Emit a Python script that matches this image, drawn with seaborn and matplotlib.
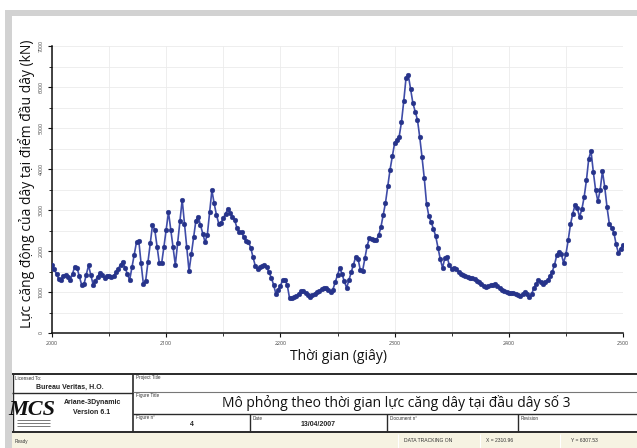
import numpy as np
import pandas as pd
import matplotlib
matplotlib.use("Agg")
import matplotlib.pyplot as plt
import seaborn as sns
from matplotlib.patches import Rectangle

# ---------------- data ----------------
t_start = 2000
t_step = 2
tension = [
    1650, 1550, 1440, 1310, 1300, 1400, 1420, 1360, 1300, 1450,
    1620, 1580, 1380, 1170, 1190, 1420, 1650, 1420, 1180, 1280,
    1370, 1470, 1410, 1350, 1400, 1400, 1370, 1390, 1480, 1570,
    1660, 1740, 1590, 1440, 1290, 1600, 1900, 2220, 2250, 1700,
    1200, 1270, 1730, 2200, 2630, 2520, 2100, 1700, 1700, 2100,
    2520, 2950, 2520, 2090, 1660, 2190, 2720, 3250, 2670, 2090,
    1510, 1920, 2330, 2740, 2840, 2630, 2420, 2220, 2390, 2940,
    3480, 3160, 2880, 2670, 2690, 2800, 2910, 3020, 2930, 2840,
    2750, 2560, 2460, 2460, 2330, 2250, 2220, 2080, 1850, 1640,
    1560, 1610, 1630, 1650, 1600, 1480, 1350, 1180, 960, 1050,
    1150, 1290, 1300, 1170, 850, 860, 870, 900, 960, 1020,
    1030, 980, 930, 880, 920, 960, 1000, 1030, 1070, 1100,
    1100, 1040, 990, 1060, 1240, 1410, 1590, 1430, 1260, 1100,
    1290, 1480, 1670, 1860, 1810, 1530, 1520, 1830, 2130, 2320,
    2300, 2280, 2270, 2380, 2580, 2880, 3170, 3580, 3980, 4310,
    4630, 4710, 4790, 5140, 5650, 6220, 6290, 5950, 5610, 5400,
    5200, 4780, 4290, 3770, 3150, 2850, 2710, 2540, 2360, 2080,
    1800, 1590, 1830, 1850, 1650, 1560, 1580, 1560, 1490, 1440,
    1410, 1380, 1360, 1350, 1340, 1320, 1280, 1240, 1200, 1150,
    1130, 1140, 1160, 1180, 1200, 1150, 1100, 1050, 1020, 990,
    975, 975, 975, 960, 930, 900, 950, 1000, 940, 880,
    950, 1100, 1190, 1290, 1250, 1200, 1250, 1290, 1390, 1490,
    1660, 1900, 1980, 1920, 1710, 1920, 2260, 2650, 2910, 3120,
    3040, 2830, 3020, 3320, 3730, 4250, 4440, 3930, 3490, 3210,
    3490, 3950, 3560, 3070, 2670, 2570, 2450, 2160, 1950, 2060,
    2150,
]
times = t_start + t_step * np.arange(len(tension))

x_ticks = [2000, 2100, 2200, 2300, 2400, 2500]
y_ticks = [0, 1000, 2000, 3000, 4000, 5000, 6000, 7000]

y_label = "Lực căng động của dây tại điểm đầu dây (kN)"
x_label = "Thời gian (giây)"
fig_title = "Mô phỏng theo thời gian lực căng dây tại đầu dây số 3"
licensee = "Bureau Veritas, H.O."
software = ["Ariane-3Dynamic", "Version 6.1"]
figure_no = "4"
date_str = "13/04/2007"
status_x = "X = 2310.96"
status_y = "Y = 6307.53"

# ---------------- figure ----------------
sns.set_theme(style="white")
plt.rcParams["font.family"] = ["Open Sans", "DejaVu Sans"]

W, H = 637, 448
fig = plt.figure(figsize=(W / 100, H / 100), dpi=100)
fig.patch.set_facecolor("white")

bg = fig.add_axes([0, 0, 1, 1])
bg.set_xlim(0, W)
bg.set_ylim(H, 0)
bg.axis("off")

band = "#d2d2d2"
bg.add_patch(Rectangle((5, 10), W - 5, 6, color=band, lw=0))
bg.add_patch(Rectangle((5, 10), 7, H - 10, color=band, lw=0))

# axis labels
bg.text(27, 184, y_label, rotation=90, ha="center", va="center",
        fontsize=10, color="#111111")
bg.text(339, 356, x_label, ha="center", va="center", fontsize=10,
        color="#111111")

# ---------------- title block table ----------------
dark = "#2a2a2a"
def hline(y, x0, x1, lw=1.0, c=dark):
    bg.plot([x0, x1], [y, y], color=c, lw=lw, solid_capstyle="butt")
def vline(x, y0, y1, lw=1.0, c=dark):
    bg.plot([x, x], [y0, y1], color=c, lw=lw, solid_capstyle="butt")

hline(374, 12, W, lw=1.4)
hline(432, 12, W, lw=1.4)
vline(13, 374, 432, lw=1.0)
vline(133, 374, 432, lw=1.2)
hline(393, 12, 133, lw=1.0)
hline(392, 133, W, lw=0.8, c="#777777")
hline(414, 133, W, lw=1.0)
for xd in (250, 387, 518):
    vline(xd, 414, 432, lw=1.0)

tiny = dict(fontsize=3.3, color="#333333", family=["Liberation Sans", "DejaVu Sans"])
bg.text(15, 378, "Licensed To:", ha="left", va="center", **tiny)
bg.text(136, 378, "Project Title", ha="left", va="center", **tiny)
bg.text(136, 396, "Figure Title", ha="left", va="center", **tiny)
bg.text(136, 418, "Figure n°", ha="left", va="center", **tiny)
bg.text(253, 418, "Date", ha="left", va="center", **tiny)
bg.text(390, 418, "Document n°", ha="left", va="center", **tiny)
bg.text(521, 418, "Revision", ha="left", va="center", **tiny)

small_b = dict(fontsize=5.0, color="#222222", fontweight="bold",
               family=["Liberation Sans", "DejaVu Sans"])
bg.text(70, 387, licensee, ha="center", va="center", **small_b)
bg.text(93, 402, software[0], ha="center", va="center", **small_b)
bg.text(92, 412, software[1], ha="center", va="center", **small_b)
bg.text(192, 425, figure_no, ha="center", va="center", **small_b)
bg.text(318, 425, date_str, ha="center", va="center", **small_b)

bg.text(32, 410, "MCS", ha="center", va="center", fontsize=16,
        fontweight="bold", fontstyle="italic", color="#111111",
        family=["Liberation Serif", "DejaVu Serif"])
for yy in (420, 423, 426):
    hline(yy, 17, 50, lw=0.5, c="#444444")

bg.text(396, 403, fig_title, ha="center", va="center", fontsize=10,
        color="#111111")

# status bar
bg.add_patch(Rectangle((12, 433), W - 12, H - 433, color="#f6f3e2", lw=0))
for xs in (398, 480, 560):
    vline(xs, 434, H, lw=0.8, c="#ffffff")
bg.text(15, 441, "Ready", ha="left", va="center", **tiny)
st = dict(fontsize=3.6, color="#333333", family=["Liberation Sans", "DejaVu Sans"])
bg.text(428, 440, "DATA TRACKING ON", ha="center", va="center", **st)
bg.text(500, 440, status_x, ha="center", va="center", **st)
bg.text(584, 440, status_y, ha="center", va="center", **st)

# ---------------- plot ----------------
ax = fig.add_axes([52 / W, 1 - 333 / H, 571 / W, 287 / H])
ax.set_facecolor("white")
df = pd.DataFrame({"t": times, "v": tension})
sns.lineplot(data=df, x="t", y="v", ax=ax, color="#3f4ca8", lw=1.2,
             marker="o", markersize=3.4, markerfacecolor="#26338a",
             markeredgecolor="#26338a", markeredgewidth=0.3, zorder=3)

ax.set_xlim(2000, 2500)
ax.set_ylim(0, 7000)
ax.set_xticks(x_ticks)
ax.set_xticklabels([str(v) for v in x_ticks])
ax.set_xticks(np.arange(2000, 2501, 50), minor=True)
ax.set_yticks(y_ticks)
ax.set_yticklabels([str(v) for v in y_ticks])
ax.set_yticks(np.arange(0, 7001, 500), minor=True)
ax.grid(which="both", color="#ebebeb", lw=0.6, zorder=0)
ax.set_axisbelow(True)
ax.set_xlabel("")
ax.set_ylabel("")
for s in ("top", "right"):
    ax.spines[s].set_visible(False)
for s in ("left", "bottom"):
    ax.spines[s].set_color("#111111")
    ax.spines[s].set_linewidth(1.1)
ax.tick_params(axis="both", which="major", direction="out", length=3,
               width=0.8, color="#111111", labelsize=3.8, labelcolor="#444444",
               pad=3, left=True, bottom=True)
ax.tick_params(axis="both", which="minor", direction="out", length=2,
               width=0.6, color="#111111", left=True, bottom=True)
ax.tick_params(axis="y", labelrotation=90)
for lab in ax.get_yticklabels():
    lab.set_va("center")

fig.savefig("out.png", dpi=100, facecolor="white")
